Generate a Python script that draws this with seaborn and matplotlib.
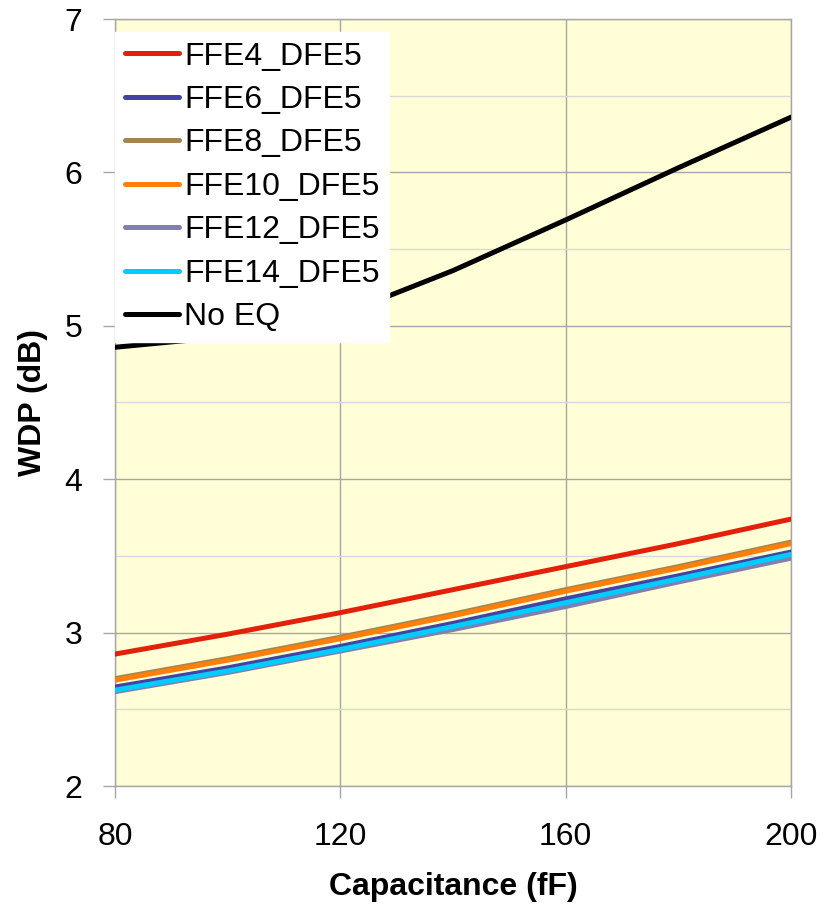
import matplotlib
matplotlib.use("Agg")
import matplotlib.pyplot as plt
from matplotlib.ticker import MultipleLocator
import seaborn as sns
import pandas as pd

# Capacitance sweep (fF)
capacitance = [80, 100, 120, 140, 160, 180, 200]

# WDP (dB) per equalizer configuration
ffe4_dfe5 = [2.86, 2.99, 3.13, 3.28, 3.43, 3.58, 3.74]
ffe6_dfe5 = [2.645, 2.77, 2.91, 3.06, 3.22, 3.37, 3.525]
ffe8_dfe5 = [2.70, 2.83, 2.97, 3.12, 3.28, 3.43, 3.59]
ffe10_dfe5 = [2.69, 2.82, 2.96, 3.11, 3.27, 3.42, 3.58]
ffe12_dfe5 = [2.615, 2.74, 2.88, 3.02, 3.17, 3.33, 3.485]
ffe14_dfe5 = [2.625, 2.75, 2.89, 3.04, 3.195, 3.35, 3.51]
no_eq = [4.86, 4.93, 5.07, 5.36, 5.69, 6.03, 6.36]

series_names = ["FFE4_DFE5", "FFE6_DFE5", "FFE8_DFE5", "FFE10_DFE5",
                "FFE12_DFE5", "FFE14_DFE5", "No EQ"]
series_values = [ffe4_dfe5, ffe6_dfe5, ffe8_dfe5, ffe10_dfe5,
                 ffe12_dfe5, ffe14_dfe5, no_eq]
colors = ["#E3200A", "#4343A3", "#A0874F", "#FF7F0A",
          "#8080B0", "#00CCFF", "#000000"]

x_ticks = [80, 120, 160, 200]
y_ticks = [2, 3, 4, 5, 6, 7]

rows = []
for name, vals in zip(series_names, series_values):
    for c, v in zip(capacitance, vals):
        rows.append({"Capacitance": c, "WDP": v, "Config": name})
df = pd.DataFrame(rows)

sns.set_theme(style="white")
plt.rcParams["font.family"] = ["Liberation Sans", "DejaVu Sans"]
plt.rcParams["text.color"] = "black"
plt.rcParams["axes.labelcolor"] = "black"

FS = 23

fig = plt.figure(figsize=(8.32, 9.09), dpi=100)
ax = fig.add_axes([115 / 832, 1 - 786 / 909, (791 - 115) / 832, (786 - 19) / 909])
ax.set_facecolor("#FFFED6")

sns.lineplot(data=df, x="Capacitance", y="WDP", hue="Config",
             hue_order=series_names, palette=colors, linewidth=3.6,
             sort=False, estimator=None, ax=ax, zorder=3)

ax.set_xlim(80, 200)
ax.set_ylim(2, 7)
ax.set_xticks(x_ticks)
ax.set_yticks(y_ticks)
ax.yaxis.set_minor_locator(MultipleLocator(0.5))

ax.grid(which="major", axis="both", color="#A6A6A6", linewidth=1.0, zorder=1)
ax.grid(which="minor", axis="y", color="#D9D9D9", linewidth=1.0, zorder=1)
ax.set_axisbelow(True)
for side in ["left", "bottom", "top", "right"]:
    ax.spines[side].set_color("#A6A6A6")
    ax.spines[side].set_linewidth(1.0)

ax.tick_params(axis="both", which="major", direction="out", length=8.6,
               width=1.0, color="#A6A6A6", labelsize=FS, labelcolor="black")
ax.tick_params(axis="y", which="major", pad=15, left=True)
ax.tick_params(axis="x", which="major", pad=17, bottom=True)
ax.tick_params(axis="y", which="minor", length=0)

ax.set_xlabel("Capacitance (fF)", fontsize=FS, fontweight="bold", labelpad=15)
ax.set_ylabel("WDP (dB)", fontsize=FS, fontweight="bold", labelpad=12)

leg = ax.legend(loc="upper left", bbox_to_anchor=(0.0, 0.983), fontsize=FS,
                frameon=True, fancybox=False, framealpha=1.0, edgecolor="white",
                facecolor="white", handlelength=1.7, handletextpad=0.16,
                labelspacing=0.42, borderpad=0.3, borderaxespad=0.0)
for line in leg.get_lines():
    line.set_linewidth(3.6)
leg.set_zorder(5)

fig.savefig("out.png", dpi=100)
